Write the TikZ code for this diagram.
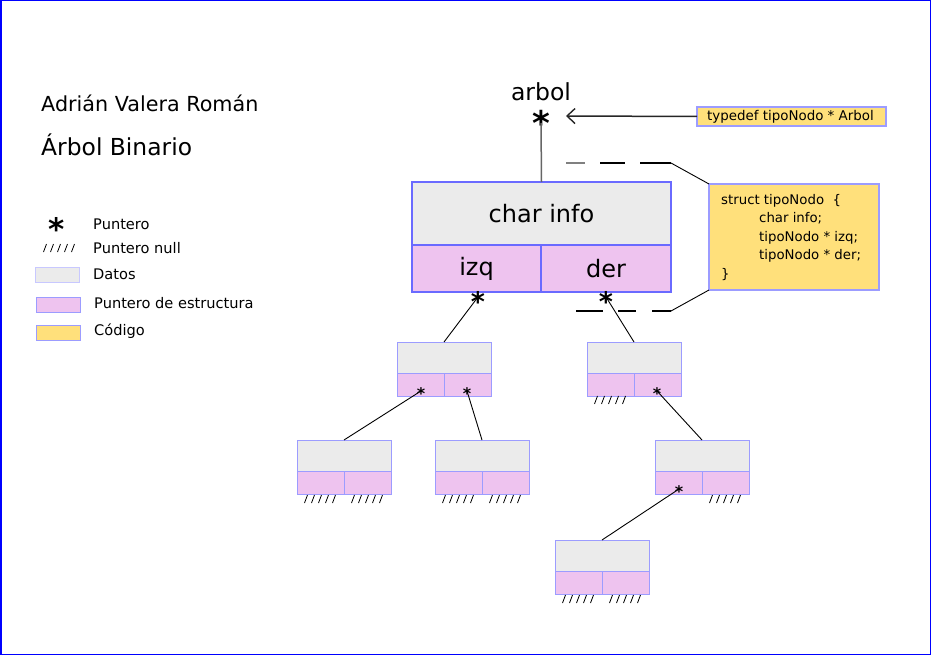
\documentclass[tikz,border=0pt]{standalone}
\usepackage{fontspec}
\setmainfont{DejaVu Sans}
\usetikzlibrary{arrows.meta}
\definecolor{datosgray}{HTML}{EBEBEB}
\definecolor{ptrpink}{HTML}{EEC3EF}
\definecolor{codeyellow}{HTML}{FFE07B}
\definecolor{bigblue}{HTML}{6A6AFF}
\definecolor{smallblue}{HTML}{9C9CFF}
\definecolor{legblue}{HTML}{C8C8FF}
\newcommand\fs[1]{\fontsize{#1}{#1}\selectfont}
\tikzset{
  datos/.style={fill=datosgray, draw=smallblue, line width=0.9pt, inner sep=0, outer sep=0, minimum width=94pt, minimum height=31pt, anchor=north west},
  ptrbox/.style={fill=ptrpink, draw=smallblue, line width=0.9pt, inner sep=0, outer sep=0, minimum width=47pt, minimum height=23pt, anchor=north west},
  bigdatos/.style={fill=datosgray, draw=bigblue, line width=1.2pt, inner sep=0, outer sep=0, minimum width=259pt, minimum height=63pt, anchor=north west, font=\fs{24}},
  bigptr/.style={fill=ptrpink, draw=bigblue, line width=1.2pt, inner sep=0, outer sep=0, minimum height=47pt, anchor=north west, font=\fs{24}},
  codebox/.style={fill=codeyellow, draw=smallblue, line width=1.2pt, inner sep=0, outer sep=0, anchor=north west},
  ast/.style={inner sep=0, outer sep=0, anchor=base, font=\bfseries\fs{#1}},
  link/.style={draw=black, line width=0.9pt},
  txt/.style={inner sep=0, anchor=west},
}
\newcommand\treenode[3]{%
  \node[datos] (#1) at (#2,#3) {};
  \node[ptrbox] (#1l) at (#1.south west) {};
  \node[ptrbox] (#1r) at (#1l.north east) {};
}
\newcommand\nullmarks[2]{%
  \foreach \k in {-2,...,2} {
    \draw[line width=0.8pt] ({#1+7*\k-1.5},{#2+4}) -- ({#1+7*\k+1.5},{#2-4});
  }
}
\begin{document}
\begin{tikzpicture}[x=1pt, y=-1pt]
\useasboundingbox (0,0) rectangle (931,655);
\fill[white] (0,0) rectangle (931,655);
\draw[blue, line width=1.5pt] (0.75,0.75) rectangle (930.25,654.25);

% titles
\node[txt, font=\fs{20.7}] (autor) at (41,103) {Adrián Valera Román};
\node[txt, font=\fs{23.4}] (titulo) at (41,145) {Árbol Binario};

% legend
\node[ast=31] (legast) at (57,{224+0.52*31}) {*};
\node[txt, font=\fs{14.6}] (legptr) at (93,224) {Puntero};
\nullmarks{59}{248}
\node[txt, font=\fs{14.6}] (legnull) at (93,248) {Puntero null};
\node[fill=datosgray, draw=legblue, line width=0.8pt, inner sep=0, minimum width=44pt, minimum height=15pt, anchor=north west] (legdat) at (35,267) {};
\node[txt, font=\fs{14.6}] (legdattxt) at (93,274) {Datos};
\node[fill=ptrpink, draw=smallblue, line width=0.8pt, inner sep=0, minimum width=44pt, minimum height=15pt, anchor=north west] (legpe) at (36,297) {};
\node[txt, font=\fs{14.6}] (legpetxt) at (94,303) {Puntero de estructura};
\node[fill=codeyellow, draw=smallblue, line width=0.8pt, inner sep=0, minimum width=44pt, minimum height=15pt, anchor=north west] (legcod) at (36,325) {};
\node[txt, font=\fs{14.6}] (legcodtxt) at (94,331) {Código};

% arbol
\node[inner sep=0, font=\fs{23.5}] (arbol) at (541,92) {arbol};
\coordinate (arbc) at (541,117);
\node[ast=34] (arbast) at (541,{117+0.54*34}) {*};

% big node
\node[bigdatos] (big) at (412,182) {char info};
\node[bigptr, minimum width=129pt] (bigl) at (412,245) {izq};
\node[bigptr, minimum width=130pt] (bigr) at (541,245) {der};
\draw[draw=black!60, line width=1.5pt] (arbc) ++(0,6) -- (big.north);

% code boxes
\node[codebox, minimum width=189pt, minimum height=19pt] (td) at (697,107) {};
\node[inner sep=0, font=\fs{13.4}] (tdtxt) at ([xshift=-1pt]td.center) {typedef tipoNodo * Arbol};
\coordinate (arrtip) at (566,116);
\draw[draw=black!85, line width=1.5pt, -{Straight Barb[length=8pt, width=15pt, line width=1.4pt]}] (td.west) -- (arrtip);

\node[codebox, minimum width=170pt, minimum height=106pt] (st) at (709,184) {};
\node[inner sep=0, anchor=north west, align=left, font=\fontsize{13.3}{18.5}\selectfont] (sttxt) at (721,194)
  {struct tipoNodo~~\{\\
   \hspace*{38pt}char info;\\
   \hspace*{38pt}tipoNodo * izq;\\
   \hspace*{38pt}tipoNodo * der;\\
   \}};

% bracket
\coordinate (btl) at (566,163);
\coordinate (btm) at (585,163);
\coordinate (btr) at (671,163);
\coordinate (bbl) at (576,311);
\coordinate (bbr) at (671,311);
\draw[line width=1.5pt, draw=black!50] (btl) -- (btm);
\draw[line width=1.1pt, dash pattern=on 0pt off 15pt on 25pt off 15pt on 31pt off 0pt] (btm) -- (btr);
\draw[line width=0.9pt] (btr) -- (st.north west);
\draw[line width=1.1pt, dash pattern=on 27pt off 15pt on 18pt off 16pt on 19pt off 0pt] (bbl) -- (bbr);
\draw[line width=0.9pt] (bbr) -- (st.south west);

% tree nodes
\treenode{na}{397}{342}
\treenode{nb}{587}{342}
\treenode{nc}{297}{440}
\treenode{nd}{435}{440}
\treenode{ne}{655}{440}
\treenode{nf}{555}{540}

% pointer asterisks of big node
\coordinate (pL) at (478,297);
\coordinate (pR) at (606,297);
\draw[link] (pL) -- (na.north);
\draw[link] (pR) -- (nb.north);
\node[ast=27] (astL) at (478,{297+0.53*27}) {*};
\node[ast=27] (astR) at (606,{297+0.53*27}) {*};

% small pointers
\coordinate (pa1) at (421,391);
\coordinate (pa2) at (467,391);
\coordinate (pb2) at (657,391);
\coordinate (pe1) at (679,489);
\draw[link] (pa1) -- (nc.north);
\draw[link] (pa2) -- (nd.north);
\draw[link] (pb2) -- (ne.north);
\draw[link] (pe1) -- (nf.north);
\node[ast=16] (asta1) at (421,{391+0.56*16}) {*};
\node[ast=16] (asta2) at (467,{391+0.56*16}) {*};
\node[ast=16] (astb2) at (657,{391+0.56*16}) {*};
\node[ast=16] (aste1) at (679,{489+0.56*16}) {*};

% null marks
\nullmarks{610}{400}
\nullmarks{320}{499}
\nullmarks{367}{499}
\nullmarks{458}{499}
\nullmarks{505}{499}
\nullmarks{725}{499}
\nullmarks{578}{599}
\nullmarks{625}{599}
\end{tikzpicture}
\end{document}
